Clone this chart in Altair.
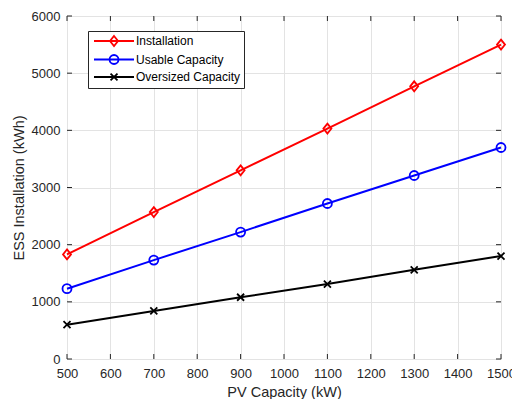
import altair as alt
import pandas as pd

pv = [500, 700, 900, 1100, 1300, 1500]
installation = [1830, 2570, 3300, 4030, 4770, 5500]
usable = [1230, 1730, 2220, 2720, 3210, 3700]
oversized = [600, 840, 1080, 1310, 1560, 1800]

series_names = ["Installation", "Usable Capacity", "Oversized Capacity"]
series_colors = ["#ff0000", "#0000ff", "#000000"]
x_ticks = [500, 600, 700, 800, 900, 1000, 1100, 1200, 1300, 1400, 1500]
y_ticks = [0, 1000, 2000, 3000, 4000, 5000, 6000]

W, H = 434, 343
FONT = "Liberation Sans"
AX = "#262626"

rows = []
for name, vals in zip(series_names, [installation, usable, oversized]):
    for x, y in zip(pv, vals):
        rows.append({"pv": x, "val": y, "series": name})
df = pd.DataFrame(rows)

xscale = alt.Scale(domain=[500, 1500], nice=False, zero=False)
yscale = alt.Scale(domain=[0, 6000], nice=False)
cscale = alt.Scale(domain=series_names, range=series_colors)

xaxis = alt.Axis(values=x_ticks, grid=True, gridColor="#e3e3e3", domain=False, ticks=False,
                 labelFont=FONT, labelFontSize=13, labelColor=AX, labelPadding=8,
                 labelFlush=False, labelOverlap=False,
                 titleFont=FONT, titleFontSize=14.5, titleFontWeight="normal", titleColor=AX,
                 titlePadding=5, format="d")
yaxis = alt.Axis(values=y_ticks, grid=True, gridColor="#e3e3e3", domain=False, ticks=False,
                 labelFont=FONT, labelFontSize=13, labelColor=AX, labelPadding=7,
                 labelFlush=False, labelOverlap=False,
                 titleFont=FONT, titleFontSize=14.5, titleFontWeight="normal", titleColor=AX,
                 titlePadding=5, format="d")

base = alt.Chart(df)
lines = base.mark_line(strokeWidth=2).encode(
    x=alt.X("pv:Q", scale=xscale, axis=xaxis, title="PV Capacity (kW)"),
    y=alt.Y("val:Q", scale=yscale, axis=yaxis, title="ESS Installation (kWh)"),
    color=alt.Color("series:N", scale=cscale, legend=None),
)

marker_shapes = {
    "Installation": ("M0,-1L0.8,0L0,1L-0.8,0Z", 100),
    "Usable Capacity": ("circle", 81),
    "Oversized Capacity": ("M-1,-1L1,1M1,-1L-1,1", 49),
}
point_layers = []
for name, col in zip(series_names, series_colors):
    shp, sz = marker_shapes[name]
    point_layers.append(
        base.transform_filter(alt.datum.series == name)
        .mark_point(shape=shp, size=sz, filled=False, color=col, strokeWidth=1.8, opacity=1)
        .encode(x="pv:Q", y="val:Q")
    )

legend_paths = [
    "M-0.67,0L6,0M2.67,-0.83L3.34,0L2.67,0.83L2.0,0Z",
    "M-0.67,0L6,0M1.92,0A0.75,0.75 0 1,0 3.42,0A0.75,0.75 0 1,0 1.92,0",
    "M-0.67,0L6,0M2.09,-0.58L3.25,0.58M3.25,-0.58L2.09,0.58",
]
leg_df = pd.DataFrame({"lseries": series_names})
legend_spec = alt.Legend(
    title=None, orient="none", legendX=21, legendY=15, padding=3,
    strokeColor=AX, fillColor="white", cornerRadius=0,
    labelFont=FONT, labelFontSize=12, labelColor="black", labelOffset=31,
    symbolSize=144, symbolStrokeWidth=1.8, rowPadding=0.5, symbolOpacity=1,
)
lscale = alt.Scale(domain=series_names, range=series_colors)
legend_layer = alt.Chart(leg_df).mark_point(filled=False, size=144, clip=True, strokeWidth=1.8).encode(
    x=alt.value(-200), y=alt.value(-200),
    color=alt.Color("lseries:N", scale=lscale, legend=legend_spec),
    shape=alt.Shape("lseries:N", scale=alt.Scale(domain=series_names, range=legend_paths), legend=legend_spec),
)

xt_df = pd.DataFrame({"v": x_ticks})
yt_df = pd.DataFrame({"v": y_ticks})
tick_bottom = alt.Chart(xt_df).mark_rule(color=AX, strokeWidth=1).encode(
    x=alt.X("v:Q", scale=xscale), y=alt.value(H), y2=alt.value(H - 5))
tick_top = alt.Chart(xt_df).mark_rule(color=AX, strokeWidth=1).encode(
    x=alt.X("v:Q", scale=xscale), y=alt.value(0), y2=alt.value(5))
tick_left = alt.Chart(yt_df).mark_rule(color=AX, strokeWidth=1).encode(
    y=alt.Y("v:Q", scale=yscale), x=alt.value(0), x2=alt.value(5))
tick_right = alt.Chart(yt_df).mark_rule(color=AX, strokeWidth=1).encode(
    y=alt.Y("v:Q", scale=yscale), x=alt.value(W), x2=alt.value(W - 5))

chart = alt.layer(
    lines, *point_layers, tick_bottom, tick_top, tick_left, tick_right, legend_layer
).resolve_scale(
    color="independent", shape="independent"
).properties(
    width=W, height=H,
    autosize=alt.AutoSizeParams(type="none"),
    padding={"left": 67, "top": 16, "right": 11, "bottom": 40},
).configure_view(
    stroke=AX, strokeWidth=1
).configure(background="white")

chart.save("out.html", embed_options={"renderer": "svg", "actions": False})
